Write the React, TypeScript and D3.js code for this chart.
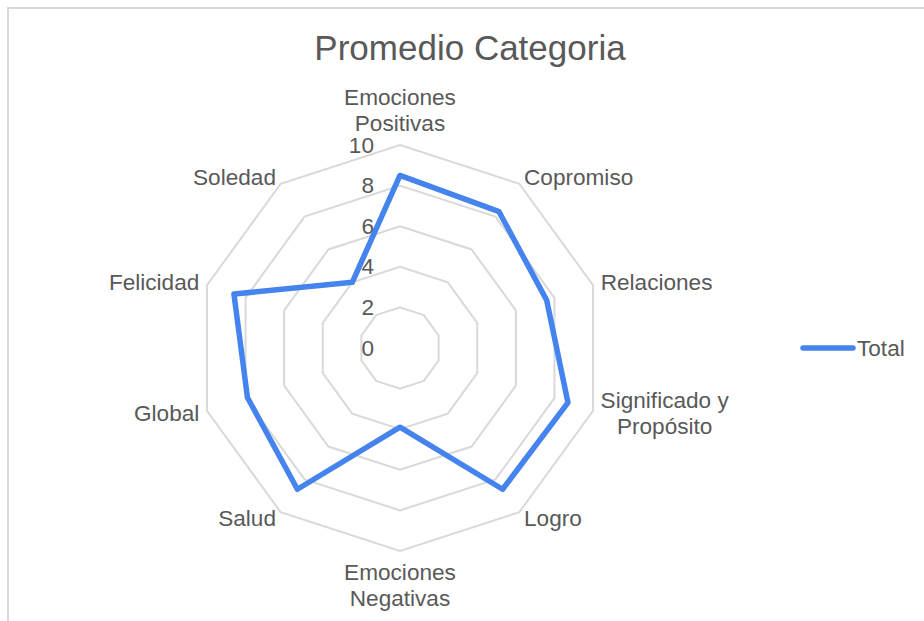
import React from "react";
import * as d3 from "d3";

const categories: string[][] = [
  ["Emociones", "Positivas"],
  ["Copromiso"],
  ["Relaciones"],
  ["Significado y", "Propósito"],
  ["Logro"],
  ["Emociones", "Negativas"],
  ["Salud"],
  ["Global"],
  ["Felicidad"],
  ["Soledad"],
];
const totalValues: number[] = [8.5, 8.3, 7.6, 8.7, 8.6, 3.9, 8.6, 7.9, 8.6, 4.0];
const tickValues: number[] = [0, 2, 4, 6, 8, 10];
const seriesName = "Total";
const title = "Promedio Categoria";

const W = 924;
const H = 621;
const cx = 400;
const cy = 348;
const R = 203;
const FONT = "Arial, 'Liberation Sans', sans-serif";
const TEXT = "#595959";
const GRID = "#d9d9d9";
const BLUE = "#4584EE";
const FS = 22.6;

export default function App() {
  const n = categories.length;
  const r = d3.scaleLinear().domain([0, 10]).range([0, R]);
  const angle = (i: number) => (i / n) * 2 * Math.PI;
  const pt = (i: number, rad: number): [number, number] => [
    cx + rad * Math.sin(angle(i)),
    cy - rad * Math.cos(angle(i)),
  ];
  const poly = (rad: number) =>
    d3.line()(d3.range(n).map((i) => pt(i, rad))) + "Z";
  const dataPath =
    d3.line()(totalValues.map((v, i) => pt(i, r(v)))) + "Z";
  const lh = 26;

  return (
    <svg
      width={W}
      height={H}
      style={{ position: "absolute", left: 0, top: 0, background: "#fff" }}
      fontFamily={FONT}
    >
      <rect x={0} y={0} width={W} height={H} fill="#fff" />
      <rect x={8} y={8} width={W + 10} height={H + 10} fill="none" stroke={GRID} strokeWidth={2} />
      <text x={470} y={60} textAnchor="middle" fontSize={35} fill={TEXT}>
        {title}
      </text>
      {tickValues
        .filter((t) => t > 0)
        .map((t) => (
          <path key={t} d={poly(r(t))} fill="none" stroke={GRID} strokeWidth={2} />
        ))}
      {tickValues.map((t) => (
        <text
          key={"t" + t}
          x={cx - 26}
          y={cy - r(t)}
          textAnchor="end"
          dominantBaseline="central"
          fontSize={FS}
          fill={TEXT}
        >
          {t}
        </text>
      ))}
      <path
        d={dataPath}
        fill="none"
        stroke={BLUE}
        strokeWidth={5.5}
        strokeLinejoin="round"
      />
      {categories.map((lines, i) => {
        const [x, y] = pt(i, R + 8);
        const s = Math.sin(angle(i));
        const c = Math.cos(angle(i));
        let anchor = "middle";
        if (s > 0.1) anchor = "start";
        else if (s < -0.1) anchor = "end";
        const blockH = lines.length * lh;
        let top: number;
        if (c > 0.9) top = y - blockH - 1;
        else if (c < -0.9) top = y;
        else top = y - blockH / 2;
        let tx = x;
        if (lines.length > 1 && anchor === "start") {
          const widest = 128;
          tx = x + widest / 2;
        }
        return (
          <text
            key={"c" + i}
            textAnchor={lines.length > 1 ? "middle" : anchor}
            fontSize={FS}
            fill={TEXT}
          >
            {lines.map((l, j) => (
              <tspan
                key={j}
                x={tx}
                y={top + j * lh + lh / 2}
                dominantBaseline="central"
              >
                {l}
              </tspan>
            ))}
          </text>
        );
      })}
      <line
        x1={803}
        x2={853}
        y1={348}
        y2={348}
        stroke={BLUE}
        strokeWidth={5.5}
        strokeLinecap="round"
      />
      <text x={857} y={348} dominantBaseline="central" fontSize={FS} fill={TEXT}>
        {seriesName}
      </text>
    </svg>
  );
}
